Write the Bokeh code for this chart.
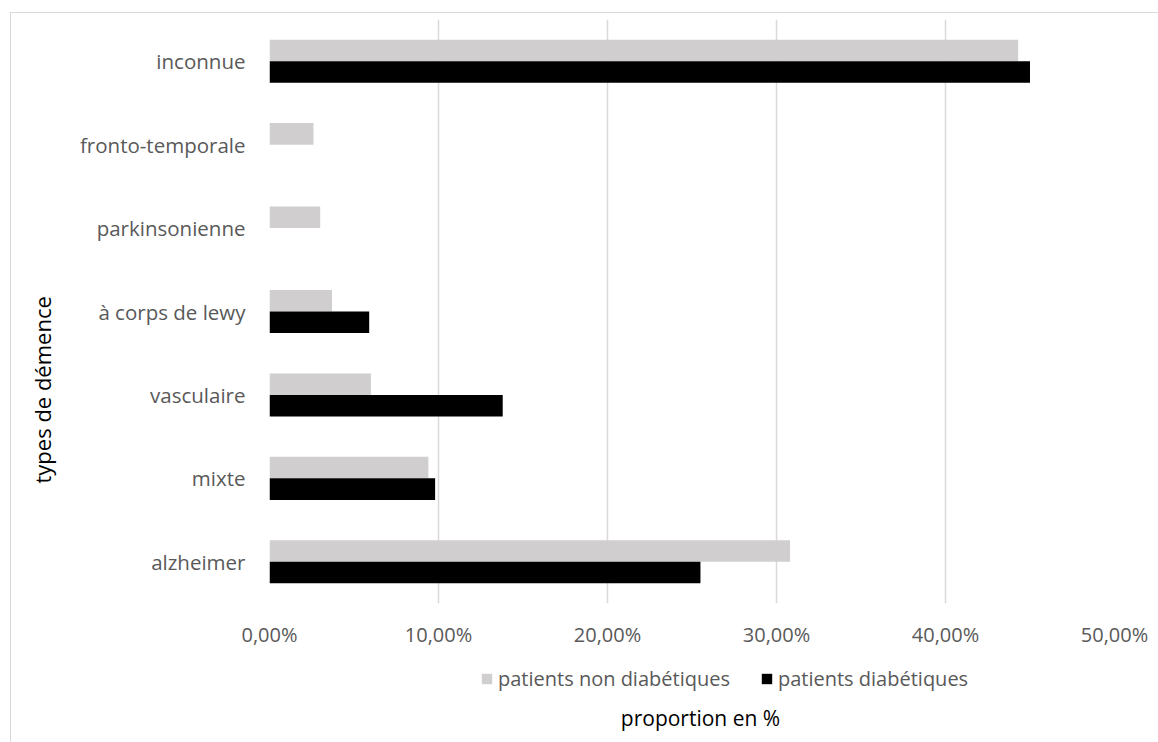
from bokeh.plotting import figure
from bokeh.layouts import column
from bokeh.models import (FactorRange, Range1d, FixedTicker, Legend, LegendItem,
                          Title, Label, ColumnDataSource, InlineStyleSheet)
from bokeh.transform import dodge
from bokeh.embed import file_html
from bokeh.resources import INLINE

# ---- data (bottom to top) ----
categories = ["alzheimer", "mixte", "vasculaire", "à corps de lewy",
              "parkinsonienne", "fronto-temporale", "inconnue"]
non_diabetiques = [30.8, 9.4, 6.0, 3.7, 3.0, 2.6, 44.3]
diabetiques = [25.5, 9.8, 13.8, 5.9, 0.0, 0.0, 45.0]
tick_values = [0, 10, 20, 30, 40, 50]
tick_labels = ["0,00%", "10,00%", "20,00%", "30,00%", "40,00%", "50,00%"]
series_names = ["patients non diabétiques", "patients diabétiques"]
x_title = "proportion en %"
y_title = "types de démence"

FONT = "Open Sans"
GRAY = "#d0cece"
TXT = "#595959"
BORDER = "#d9d9d9"

src = ColumnDataSource(dict(cat=categories, non=non_diabetiques, dia=diabetiques))

# ---------------- main chart ----------------
p = figure(frame_width=845, frame_height=584, output_backend="svg", toolbar_location=None,
           y_range=FactorRange(*categories, range_padding=0),
           x_range=Range1d(0, 50),
           min_border_left=269, min_border_right=44, min_border_top=19,
           min_border_bottom=57)
p.outline_line_color = None
p.background_fill_color = "white"
p.border_fill_color = "white"

r1 = p.hbar(y=dodge("cat", 0.129, range=p.y_range), right="non", left=0, height=0.258,
            fill_color=GRAY, line_color=None, source=src)
r2 = p.hbar(y=dodge("cat", -0.129, range=p.y_range), right="dia", left=0, height=0.258,
            fill_color="black", line_color=None, source=src)

p.xgrid.ticker = FixedTicker(ticks=tick_values)
p.xgrid.grid_line_color = BORDER
p.xgrid.grid_line_width = 1.5
p.ygrid.grid_line_color = None

xa = p.xaxis[0]
xa.ticker = FixedTicker(ticks=tick_values)
xa.major_label_overrides = {v: t for v, t in zip(tick_values, tick_labels)}
xa.axis_line_color = None
xa.major_tick_line_color = None
xa.minor_tick_line_color = None
xa.major_label_standoff = 11
xa.major_label_text_font = FONT
xa.major_label_text_font_size = "20px"
xa.major_label_text_color = TXT

ya = p.yaxis[0]
ya.axis_line_color = None
ya.major_tick_line_color = None
ya.minor_tick_line_color = None
ya.major_label_standoff = 18
ya.major_label_text_font = FONT
ya.major_label_text_font_size = "20.5px"
ya.major_label_text_color = TXT

p.add_layout(Title(text=y_title, align="left", offset=120, standoff=39,
                   text_font=FONT, text_font_size="22px", text_color="black",
                   text_font_style="normal"), "left")

p.stylesheets.append(InlineStyleSheet(css=":host::after{content:'';position:absolute;"
    "left:10px;top:12px;right:0;bottom:0;border-left:1px solid " + BORDER + ";"
    "border-top:1px solid " + BORDER + ";pointer-events:none;}"))

# ---------------- legend + x title strip ----------------
p2 = figure(frame_width=1158, frame_height=82, output_backend="svg", toolbar_location=None,
            x_range=Range1d(0, 1), y_range=Range1d(0, 1),
            x_axis_type=None, y_axis_type=None,
            min_border_left=0, min_border_right=0, min_border_top=0, min_border_bottom=0)
p2.outline_line_color = None
p2.xgrid.visible = False
p2.ygrid.visible = False
p2.background_fill_color = "white"
p2.border_fill_color = "white"

# legend keys: one bar each, lying outside the strip's visible range
key_src = ColumnDataSource(dict(y=[-5], right=[1]))
k1 = p2.hbar(y="y", right="right", left=0, height=1, fill_color=GRAY, line_color=None,
             source=key_src)
k2 = p2.hbar(y="y", right="right", left=0, height=1, fill_color="black", line_color=None,
             source=key_src)

legend = Legend(items=[LegendItem(label=series_names[0], renderers=[k1]),
                       LegendItem(label=series_names[1], renderers=[k2])],
                location=(480, 50), orientation="horizontal",
                glyph_width=13, glyph_height=13, label_standoff=5, spacing=30,
                padding=0, margin=0, border_line_color=None,
                background_fill_alpha=0,
                label_text_font=FONT, label_text_font_size="20px",
                label_text_color=TXT)
p2.add_layout(legend, "center")

p2.add_layout(Label(x=431, y=25, x_units="screen", y_units="screen", text=x_title,
                    text_align="center", text_baseline="middle", text_font=FONT,
                    text_font_size="21px", text_color="black"))

p2.stylesheets.append(InlineStyleSheet(css=":host::after{content:'';position:absolute;"
    "left:10px;top:0;right:0;bottom:0;border-left:1px solid " + BORDER + ";"
    "pointer-events:none;}"))

layout = column(p, p2, spacing=0)

open("out.html", "w").write(file_html(layout, INLINE))
